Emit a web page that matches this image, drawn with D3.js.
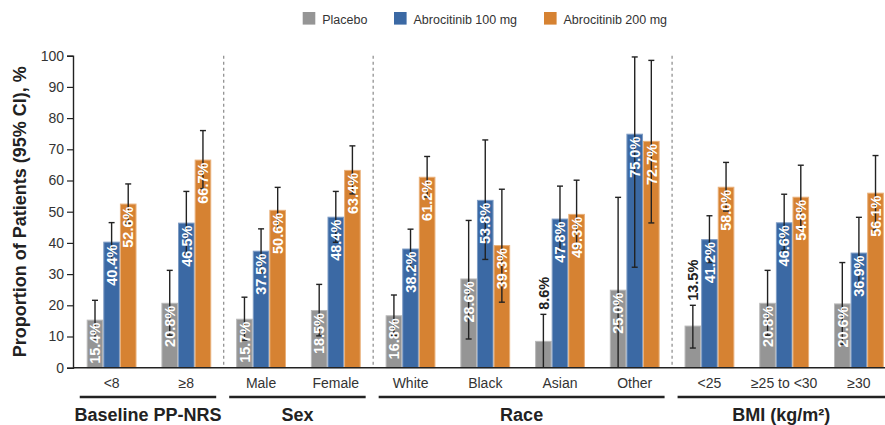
<!DOCTYPE html>
<html>
<head>
<meta charset="utf-8">
<script src="https://cdn.jsdelivr.net/npm/d3@7"></script>
<style>
  html, body { margin: 0; padding: 0; background: #ffffff; }
  svg { display: block; font-family: "Liberation Sans", Arial, Helvetica, sans-serif; }
</style>
</head>
<body>
<svg id="chart" width="885" height="425"></svg>
<script>
// Subgroup categories along the x axis
const categories = ["<8", "≥8", "Male", "Female", "White", "Black", "Asian", "Other", "<25", "≥25 to <30", "≥30"];
// Subgroup headings and how many categories each covers
const subgroupTitles = ["Baseline PP-NRS", "Sex", "Race", "BMI (kg/m²)"];
const subgroupSizes = [2, 2, 4, 3];

const seriesNames = ["Placebo", "Abrocitinib 100 mg", "Abrocitinib 200 mg"];
const seriesColors = ["#959595", "#3b69a4", "#d68232"];
const seriesEdges = ["#b9b9b9", "#7f9cc4", "#e9b07a"];

// Proportion of patients (%) with 95% CI bounds
const placebo     = [15.4, 20.8, 15.7, 18.5, 16.8, 28.6, 8.6, 25.0, 13.5, 20.8, 20.6];
const placeboLow  = [9.2, 10.4, 8.8, 10.2, 10.3, 9.2, 0.0, 0.0, 6.3, 10.4, 7.5];
const placeboHigh = [21.6, 31.2, 22.6, 26.7, 23.3, 47.2, 17.1, 54.6, 20.0, 31.2, 33.7];

const abro100     = [40.4, 46.5, 37.5, 48.4, 38.2, 53.8, 47.8, 75.0, 41.2, 46.6, 36.9];
const abro100Low  = [34.3, 36.5, 30.5, 40.2, 32.0, 34.7, 37.4, 32.2, 33.7, 37.6, 25.6];
const abro100High = [46.5, 56.5, 44.5, 56.5, 44.4, 73.0, 58.2, 99.6, 48.7, 55.6, 48.2];

const abro200     = [52.6, 66.7, 50.6, 63.4, 61.2, 39.3, 49.3, 72.7, 58.0, 54.8, 56.1];
const abro200Low  = [46.3, 57.4, 43.4, 55.7, 54.7, 21.0, 38.5, 46.4, 50.2, 44.7, 44.2];
const abro200High = [58.9, 76.0, 57.8, 71.1, 67.7, 57.2, 60.1, 98.5, 65.8, 64.9, 68.0];

const yTicks = [0, 10, 20, 30, 40, 50, 60, 70, 80, 90, 100];
const yTitle = "Proportion of Patients (95% CI), %";

const values = [placebo, abro100, abro200];
const lows = [placeboLow, abro100Low, abro200Low];
const highs = [placeboHigh, abro100High, abro200High];

const rows = [];
categories.forEach((c, i) => {
  seriesNames.forEach((s, k) => {
    rows.push({ cat: c, series: s, k, value: values[k][i], low: lows[k][i], high: highs[k][i] });
  });
});

const svg = d3.select("#chart");
const ink = "#222222";
const textInk = "#333333";

const step = 74.73;
const x0 = 86.7 - step / 6;
const x = d3.scaleBand().domain(categories).range([x0, x0 + step * 11])
  .paddingInner(1 / 3).paddingOuter(1 / 6);
const xs = d3.scaleBand().domain(seriesNames).range([0, x.bandwidth()]);
const y = d3.scaleLinear().domain([0, 100]).range([367.7, 55.7]);

const axisX = 73;

// Subgroup extents
let idx = 0;
const bounds = [];
subgroupSizes.forEach((n, g) => {
  const first = categories[idx], last = categories[idx + n - 1];
  const left = x(first) - x.step() * x.paddingInner() / 2;
  const right = x(last) + x.bandwidth() + x.step() * x.paddingInner() / 2;
  bounds.push({ title: subgroupTitles[g], left, right });
  idx += n;
});

// Dashed separators between subgroups
svg.append("g").selectAll("line").data(bounds.slice(0, -1)).join("line")
  .attr("x1", d => d.right).attr("x2", d => d.right)
  .attr("y1", y(100)).attr("y2", y(0))
  .attr("stroke", "#8a8a8a").attr("stroke-width", 1.2).attr("stroke-dasharray", "3,3");

// Bars
svg.append("g").selectAll("rect").data(rows).join("rect")
  .attr("x", d => x(d.cat) + xs(d.series) + 0.5)
  .attr("width", xs.bandwidth() - 1)
  .attr("y", d => y(d.value) + 0.5)
  .attr("height", d => y(0) - y(d.value) - 0.5)
  .attr("fill", d => seriesColors[d.k])
  .attr("stroke", d => seriesEdges[d.k])
  .attr("stroke-width", 1);

// 95% CI error bars
const eb = svg.append("g").attr("stroke", ink).attr("stroke-width", 1.4);
const cxOf = d => x(d.cat) + xs(d.series) + xs.bandwidth() / 2;
eb.selectAll("line.v").data(rows).join("line").attr("class", "v")
  .attr("x1", cxOf).attr("x2", cxOf)
  .attr("y1", d => y(d.low)).attr("y2", d => y(d.high));
eb.selectAll("line.hi").data(rows).join("line").attr("class", "hi")
  .attr("x1", d => cxOf(d) - 3).attr("x2", d => cxOf(d) + 3)
  .attr("y1", d => y(d.high)).attr("y2", d => y(d.high));
eb.selectAll("line.lo").data(rows.filter(d => d.low > 0)).join("line").attr("class", "lo")
  .attr("x1", d => cxOf(d) - 3).attr("x2", d => cxOf(d) + 3)
  .attr("y1", d => y(d.low)).attr("y2", d => y(d.low));

// Value labels, rotated; short bars carry their label above the CI
const inside = d => d.value >= 14;
svg.append("g").selectAll("text").data(rows).join("text")
  .attr("transform", d => {
    const yy = inside(d) ? y(d.value) + 3 : y(d.high) - 4.5;
    return `translate(${cxOf(d)},${yy}) rotate(-90)`;
  })
  .attr("text-anchor", d => inside(d) ? "end" : "start")
  .attr("dy", "0.36em")
  .attr("font-size", "14.5px")
  .attr("font-weight", "bold")
  .attr("fill", d => inside(d) ? "#ffffff" : ink)
  .text(d => d.value.toFixed(1) + "%");

// Y axis
const yAxis = svg.append("g").attr("transform", `translate(${axisX},0)`)
  .call(d3.axisLeft(y).tickValues(yTicks).tickSize(6).tickPadding(3));
yAxis.select(".domain").attr("stroke", ink).attr("stroke-width", 1.4);
yAxis.selectAll(".tick line").attr("stroke", ink).attr("stroke-width", 1.2);
yAxis.selectAll(".tick text").attr("font-size", "14px").attr("fill", textInk)
  .attr("font-family", "Liberation Sans, Arial, sans-serif");

// X baseline
svg.append("line").attr("x1", axisX).attr("x2", 885)
  .attr("y1", y(0)).attr("y2", y(0))
  .attr("stroke", ink).attr("stroke-width", 1.6);

// Category labels
svg.append("g").selectAll("text").data(categories).join("text")
  .attr("x", d => x(d) + x.bandwidth() / 2)
  .attr("y", 388)
  .attr("text-anchor", "middle")
  .attr("font-size", "14px")
  .attr("fill", textInk)
  .text(d => d);

// Subgroup brackets and headings
svg.append("g").selectAll("line").data(bounds).join("line")
  .attr("x1", d => d.left + 5.5).attr("x2", d => d.right - 7.5)
  .attr("y1", 397).attr("y2", 397)
  .attr("stroke", ink).attr("stroke-width", 2.4);
svg.append("g").selectAll("text").data(bounds).join("text")
  .attr("x", d => (d.left + 5.5 + Math.min(d.right - 7.5, 885)) / 2)
  .attr("y", 420.5)
  .attr("text-anchor", "middle")
  .attr("font-size", "18px")
  .attr("font-weight", "bold")
  .attr("fill", ink)
  .text(d => d.title);

// Y axis title
svg.append("text")
  .attr("transform", `translate(26,${(y(0) + y(100)) / 2}) rotate(-90)`)
  .attr("text-anchor", "middle")
  .attr("font-size", "18px")
  .attr("font-weight", "bold")
  .attr("fill", ink)
  .text(yTitle);

// Legend
const legendX = [302.7, 394, 544];
const legend = svg.append("g").selectAll("g").data(seriesNames).join("g")
  .attr("transform", (d, i) => `translate(${legendX[i]},12)`);
legend.append("rect").attr("width", 12.6).attr("height", 12.6)
  .attr("fill", (d, i) => seriesColors[i]);
legend.append("text").attr("x", 19.5).attr("y", 12)
  .attr("font-size", "12.5px").attr("fill", textInk)
  .text(d => d);
</script>
</body>
</html>
